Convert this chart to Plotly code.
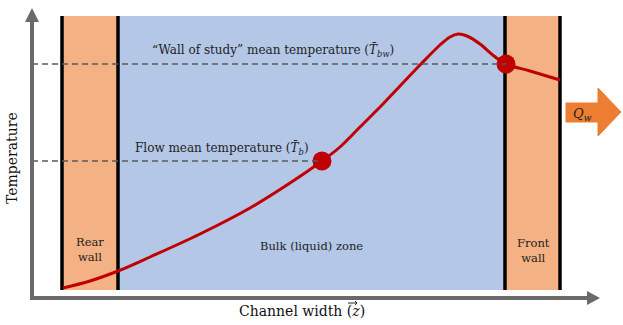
import plotly.graph_objects as go

W, H = 623, 325

# Temperature profile across the channel width (x in px-like units, T = height above bottom)
curve_z = [63, 90, 118, 150, 200, 250, 290, 322, 340, 360, 383, 400, 420, 440, 450, 458, 467, 480, 494, 506, 530, 560]
curve_py = [288, 281, 271, 257, 234, 208, 183, 161, 147, 127, 104, 86, 65, 45, 37, 34, 36, 44, 56, 64, 71, 80]
curve_T = [H - v for v in curve_py]

# Mean temperature points
mean_labels = ["Flow mean temperature (<i>T̄</i><sub><i>b</i></sub>)",
               "“Wall of study” mean temperature (<i>T̄</i><sub><i>bw</i></sub>)"]
mean_z = [322, 506]
mean_T = [H - 161, H - 64]

# Zones: (x0, x1, colour, label)
zones = [
    (62, 118, "#F4B183", "Rear<br>wall"),
    (118, 505, "#B4C7E7", "Bulk (liquid) zone"),
    (505, 560, "#F4B183", "Front<br>wall"),
]
zone_top, zone_bot = H - 16, H - 290

fig = go.Figure()

shapes = []
for x0, x1, col, _ in zones:
    shapes.append(dict(type="rect", x0=x0, x1=x1, y0=zone_bot, y1=zone_top,
                       fillcolor=col, line=dict(width=0), layer="below"))
for xl in [62, 118, 505, 560]:
    shapes.append(dict(type="line", x0=xl, x1=xl, y0=zone_bot, y1=zone_top,
                       line=dict(color="black", width=3.5), layer="below"))

# dashed guide lines
for zx, t in zip(mean_z, mean_T):
    shapes.append(dict(type="line", x0=32, x1=zx, y0=t, y1=t,
                       line=dict(color="#595959", width=1.3, dash="6px,4px")))

axc = "#6a6a6a"
# y axis arrow
shapes.append(dict(type="line", x0=32, x1=32, y0=H - 299, y1=H - 20, line=dict(color=axc, width=4)))
shapes.append(dict(type="path", path=f"M 25 {H-22} L 39 {H-22} L 32 {H-8} Z",
                   fillcolor=axc, line=dict(width=0)))
# x axis arrow
shapes.append(dict(type="line", x0=30, x1=590, y0=H - 298, y1=H - 298, line=dict(color=axc, width=4)))
shapes.append(dict(type="path", path=f"M 587 {H-291} L 587 {H-305} L 600 {H-298} Z",
                   fillcolor=axc, line=dict(width=0)))
# heat flux arrow
shapes.append(dict(type="path",
                   path=f"M 566 {H-103} L 598 {H-103} L 598 {H-88} L 621 {H-112} L 598 {H-136} L 598 {H-122} L 566 {H-122} Z",
                   fillcolor="#ED7D31", line=dict(color="#ED7D31", width=1)))
# vector arrow over z
shapes.append(dict(type="path", path=f"M 348 {H-303} L 357 {H-303} M 355 {H-301} L 357 {H-303} L 355 {H-305}",
                   line=dict(color="#111", width=0.9)))

fig.add_trace(go.Scatter(x=curve_z, y=curve_T, mode="lines", line=dict(color="#C00000", width=3, shape="spline"),
                         hoverinfo="skip", showlegend=False))
fig.add_trace(go.Scatter(x=mean_z, y=mean_T, mode="markers", marker=dict(color="#C00000", size=19),
                         hoverinfo="skip", showlegend=False))

serif = "DejaVu Serif"
def f(size, color="#222"):
    return dict(family=serif, size=size, color=color)

ann = []
ann.append(dict(x=273, y=H - 50, text=mean_labels[1], showarrow=False, font=f(12)))
ann.append(dict(x=222, y=H - 148, text=mean_labels[0], showarrow=False, font=f(12)))
ann.append(dict(x=90, y=H - 249, text=zones[0][3], showarrow=False, font=f(11.5)))
ann.append(dict(x=311, y=H - 246, text=zones[1][3], showarrow=False, font=f(11.5)))
ann.append(dict(x=533, y=H - 250, text=zones[2][3], showarrow=False, font=f(11.5)))
ann.append(dict(x=582, y=H - 114, text="<i>Q</i><sub><i>w</i></sub>", showarrow=False, font=f(13)))
ann.append(dict(x=12, y=H - 158, text="Temperature", textangle=-90, showarrow=False, font=f(14, "#111")))
ann.append(dict(x=302, y=H - 311, text="Channel width (<i>z</i>)", showarrow=False, font=f(14, "#111")))

fig.update_layout(width=W, height=H, margin=dict(l=0, r=0, t=0, b=0),
                  paper_bgcolor="white", plot_bgcolor="white",
                  shapes=shapes, annotations=ann, showlegend=False,
                  xaxis=dict(range=[0, W], visible=False, fixedrange=True),
                  yaxis=dict(range=[0, H], visible=False, fixedrange=True))

fig.write_html("out.html", config={"displayModeBar": False},
               post_script="document.body.style.margin='0';document.body.style.overflow='hidden';")
